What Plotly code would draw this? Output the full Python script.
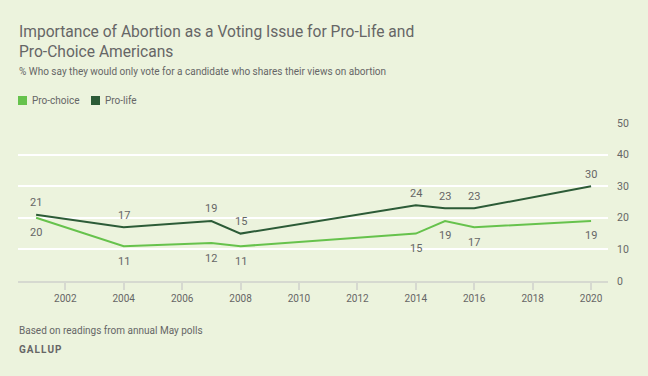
import plotly.graph_objects as go

years = [2001, 2004, 2007, 2008, 2014, 2015, 2016, 2020]
pro_life = [21, 17, 19, 15, 24, 23, 23, 30]
pro_choice = [20, 11, 12, 11, 15, 19, 17, 19]
x_ticks = [2002, 2004, 2006, 2008, 2010, 2012, 2014, 2016, 2018, 2020]
y_ticks = [0, 10, 20, 30, 40, 50]

BG = "#ECF3DD"
C_CHOICE = "#66C24C"
C_LIFE = "#2C5B37"
TXT = "#666666"
FONT = "Roboto"

W, H = 648, 376
L, R, T, B = 18, 40, 123, 95
PW, PH = W - L - R, H - T - B

def px(x):
    return (x - L) / PW

def py(y):
    return (H - B - y) / PH

fig = go.Figure()
fig.add_trace(go.Scatter(x=years, y=pro_choice, mode="lines", name="Pro-choice",
                         line=dict(color=C_CHOICE, width=2), showlegend=False))
fig.add_trace(go.Scatter(x=years, y=pro_life, mode="lines", name="Pro-life",
                         line=dict(color=C_LIFE, width=2), showlegend=False))

annotations = []
for yr, v in zip(years, pro_choice):
    annotations.append(dict(x=yr, y=v, xref="x", yref="y", text=str(v), showarrow=False,
                            yshift=-15, font=dict(size=11, color=TXT, family=FONT)))
for yr, v in zip(years, pro_life):
    annotations.append(dict(x=yr, y=v, xref="x", yref="y", text=str(v), showarrow=False,
                            yshift=12, font=dict(size=11, color=TXT, family=FONT)))

texts = [
    dict(text="Importance of Abortion as a Voting Issue for Pro-Life and<br>Pro-Choice Americans",
         x=px(17), y=py(21), yanchor="top", font=dict(size=15.6, color=TXT, family=FONT)),
    dict(text="% Who say they would only vote for a candidate who shares their views on abortion",
         x=px(17), y=py(71), yanchor="middle", font=dict(size=10, color=TXT, family=FONT)),
    dict(text="Pro-choice", x=px(30), y=py(101), yanchor="middle",
         font=dict(size=10, color=TXT, family=FONT)),
    dict(text="Pro-life", x=px(103), y=py(101), yanchor="middle",
         font=dict(size=10, color=TXT, family=FONT)),
    dict(text="Based on readings from annual May polls",
         x=px(17), y=py(330), yanchor="middle", font=dict(size=10, color=TXT, family=FONT)),
    dict(text="<b>G\u200aA\u200aL\u200aL\u200aU\u200aP</b>",
         x=px(17), y=py(349), yanchor="middle", font=dict(size=10, color=TXT, family=FONT)),
]
for a in texts:
    a.update(xref="paper", yref="paper", showarrow=False, xanchor="left", align="left")
annotations += texts

shapes = [
    dict(type="rect", xref="paper", yref="paper", x0=px(18), x1=px(27), y0=py(96), y1=py(105),
         fillcolor=C_CHOICE, line=dict(width=0)),
    dict(type="rect", xref="paper", yref="paper", x0=px(91), x1=px(100), y0=py(96), y1=py(105),
         fillcolor=C_LIFE, line=dict(width=0)),
]

fig.update_layout(
    width=W, height=H, margin=dict(l=L, r=R, t=T, b=B),
    paper_bgcolor=BG, plot_bgcolor=BG,
    font=dict(family=FONT, color=TXT, size=11),
    annotations=annotations, shapes=shapes, showlegend=False,
    xaxis=dict(range=[2000.38, 2020.58], tickvals=x_ticks, showgrid=False, zeroline=False,
               showline=True, linecolor="#D6D9D0", linewidth=1.5,
               ticks="outside", ticklen=7, tickcolor="#D6D9D0", tickwidth=1.5,
               tickfont=dict(size=10, color=TXT, family=FONT)),
    yaxis=dict(range=[0, 50], tickvals=y_ticks, side="right", showgrid=True,
               gridcolor="#FFFFFF", gridwidth=2, zeroline=False, showline=False,
               ticks="", ticklabelstandoff=8,
               tickfont=dict(size=10.5, color=TXT, family=FONT)),
)

fig.write_html("out.html", config={"displayModeBar": False},
               post_script="document.body.style.margin='0';")
